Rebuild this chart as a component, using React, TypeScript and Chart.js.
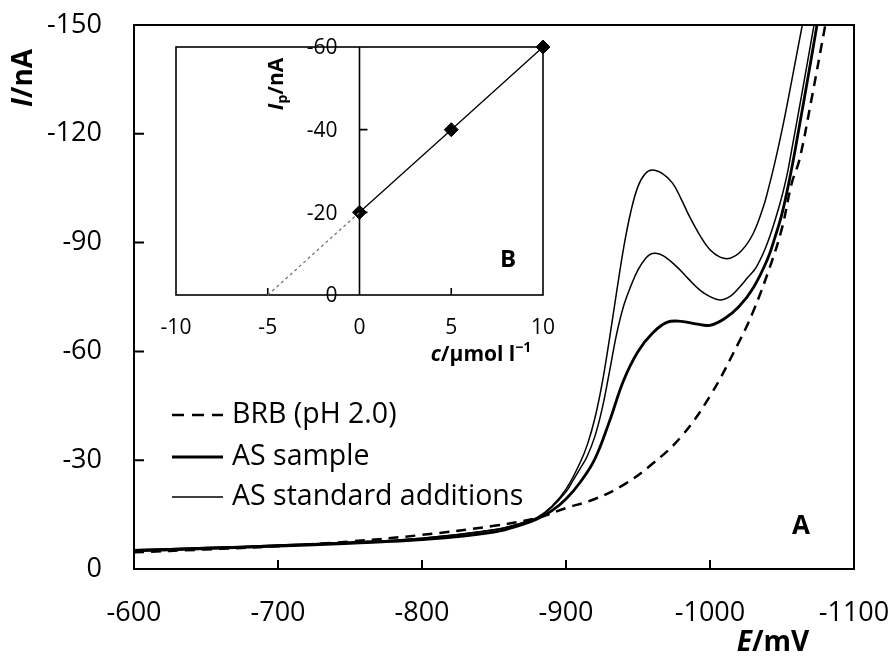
import React, { useEffect, useRef } from "react";
import { Chart, registerables } from "chart.js";
Chart.register(...registerables);

const FONT = "'Open Sans', sans-serif";

// ---------- main chart data (E / mV, I / nA) ----------
const brbE = [-600, -650, -700, -750, -800, -850, -880, -900, -920, -940, -960, -980, -1000, -1020, -1030, -1041.7, -1050, -1056.7, -1062, -1070, -1081];
const brbI = [-4.6, -5.4, -6.3, -7.6, -9.4, -11.9, -14.1, -16.8, -19.3, -23.2, -29.0, -36.5, -47.7, -62.5, -71.0, -83.4, -94.0, -106.3, -112.7, -128.5, -152.0];

const sampleE = [-600, -650, -700, -750, -800, -850, -870, -880, -890, -900, -910, -920, -930, -940, -950, -960, -970, -980, -990, -1000, -1010, -1020, -1030, -1040, -1045, -1050, -1055, -1060, -1070, -1076];
const sampleI = [-5.0, -5.6, -6.3, -7.1, -8.1, -10.2, -12.3, -13.8, -16.0, -19.3, -24.0, -30.3, -40.5, -52.0, -60.0, -65.0, -68.0, -68.3, -67.6, -67.2, -69.0, -72.3, -77.5, -85.5, -91.3, -98.0, -107.0, -117.5, -140.0, -154.0];

const add1E = [-600, -650, -700, -750, -800, -850, -870, -880, -890, -900, -905, -910, -914.4, -920, -925, -930, -935, -940, -945, -950, -955, -960, -967, -977, -985, -993, -1000, -1007, -1014, -1020, -1026, -1032.4, -1040, -1048.6, -1053.2, -1056.7, -1064, -1074];
const add1I = [-5.3, -5.9, -6.6, -7.4, -8.5, -10.8, -12.7, -14.1, -17.0, -21.3, -24.5, -27.8, -30.8, -36.5, -44.0, -54.0, -64.5, -72.5, -78.0, -82.5, -85.5, -87.0, -86.5, -83.3, -80.0, -76.9, -75.1, -74.2, -75.2, -77.5, -80.3, -83.4, -90.0, -100.8, -108.1, -115.5, -131.5, -154.0];

const add2E = [-600, -650, -700, -750, -800, -850, -870, -880, -890, -900, -910, -915, -920, -925, -930, -935, -940, -945, -950, -955, -960, -967, -974, -980, -986, -993, -1000, -1007, -1014, -1022, -1030, -1037, -1040, -1045, -1050, -1055, -1066];
const add2I = [-5.3, -5.9, -6.6, -7.4, -8.5, -10.8, -12.8, -14.2, -17.2, -22.0, -29.5, -34.5, -41.5, -51.0, -63.0, -76.0, -88.5, -98.5, -105.5, -109.0, -110.0, -109.0, -106.4, -102.0, -97.0, -92.0, -88.0, -86.0, -85.7, -87.8, -92.5, -99.8, -104.0, -112.0, -121.0, -131.0, -154.0];

const mainXTicks = [-600, -700, -800, -900, -1000, -1100];
const mainYTicks = [0, -30, -60, -90, -120, -150];
const legendLabels = ["BRB (pH 2.0)", "AS sample", "AS standard additions"];

// ---------- inset data (c / µmol l-1, Ip / nA) ----------
const insetC = [0, 5, 10];
const insetIp = [-20, -40, -60];
const extrapC = [-5, 0];
const extrapIp = [0, -20];
const insetXTicks = [-10, -5, 0, 5, 10];
const insetYTicks = [0, -20, -40, -60];

const zip = (xs: number[], ys: number[]) => xs.map((x, i) => ({ x, y: ys[i] }));

type Part = { t: string; font: string; dy?: number };
function drawRich(ctx: CanvasRenderingContext2D, parts: Part[], cx: number, cy: number) {
  let total = 0;
  for (const p of parts) {
    ctx.font = p.font;
    total += ctx.measureText(p.t).width;
  }
  let x = cx - total / 2;
  ctx.textAlign = "left";
  ctx.textBaseline = "middle";
  for (const p of parts) {
    ctx.font = p.font;
    ctx.fillText(p.t, x, cy + (p.dy || 0));
    x += ctx.measureText(p.t).width;
  }
}

const mainPlugin = {
  id: "mainDecor",
  afterDraw(chart: any) {
    const ctx: CanvasRenderingContext2D = chart.ctx;
    const { left, right, top, bottom } = chart.chartArea;
    const xs = chart.scales.x;
    const ys = chart.scales.y;
    ctx.save();
    ctx.strokeStyle = "#000";
    ctx.fillStyle = "#000";
    ctx.setLineDash([]);
    ctx.lineWidth = 2;
    ctx.strokeRect(left, top, right - left, bottom - top);
    // inward ticks
    ctx.beginPath();
    for (const v of mainXTicks) {
      const px = xs.getPixelForValue(v);
      ctx.moveTo(px, bottom);
      ctx.lineTo(px, bottom - 9);
    }
    for (const v of mainYTicks) {
      const py = ys.getPixelForValue(v);
      ctx.moveTo(left, py);
      ctx.lineTo(left + 10, py);
    }
    ctx.stroke();
    // tick labels
    ctx.font = `27px ${FONT}`;
    ctx.textBaseline = "middle";
    ctx.textAlign = "center";
    for (const v of mainXTicks) {
      ctx.fillText(String(v), xs.getPixelForValue(v), bottom + 44);
    }
    ctx.textAlign = "right";
    for (const v of mainYTicks) {
      ctx.fillText(String(v), left - 32, ys.getPixelForValue(v));
    }
    // axis titles
    drawRich(ctx, [
      { t: "E", font: `italic bold 28px ${FONT}` },
      { t: "/mV", font: `bold 28px ${FONT}` },
    ], 773, 643);
    ctx.save();
    ctx.translate(24, 78);
    ctx.rotate(-Math.PI / 2);
    drawRich(ctx, [
      { t: "I", font: `italic bold 28px ${FONT}` },
      { t: "/nA", font: `bold 28px ${FONT}` },
    ], 0, 0);
    ctx.restore();
    // panel letter
    ctx.font = `bold 26px ${FONT}`;
    ctx.textAlign = "center";
    ctx.fillText("A", right - 53, bottom - 42);
    // legend
    const rows = [bottom - 154, bottom - 112, bottom - 72];
    const lx0 = left + 38, lx1 = left + 89, tx = left + 98;
    const styles = [
      { w: 2.5, dash: [12, 8] },
      { w: 2.8, dash: [] as number[] },
      { w: 1.5, dash: [] as number[] },
    ];
    for (let i = 0; i < 3; i++) {
      ctx.beginPath();
      ctx.lineWidth = styles[i].w;
      ctx.setLineDash(styles[i].dash);
      ctx.moveTo(lx0, rows[i]);
      ctx.lineTo(lx1, rows[i]);
      ctx.stroke();
      ctx.setLineDash([]);
      ctx.font = `28.5px ${FONT}`;
      ctx.textAlign = "left";
      ctx.textBaseline = "middle";
      ctx.fillText(legendLabels[i], tx, rows[i]);
    }
    ctx.restore();
  },
};

const insetPlugin = {
  id: "insetDecor",
  beforeDraw(chart: any) {
    const ctx: CanvasRenderingContext2D = chart.ctx;
    const { left, right, top, bottom } = chart.chartArea;
    ctx.save();
    ctx.fillStyle = "#fff";
    ctx.fillRect(left, top, right - left, bottom - top);
    ctx.restore();
  },
  beforeDatasetsDraw(chart: any) {
    const ctx: CanvasRenderingContext2D = chart.ctx;
    const { left, right, top, bottom } = chart.chartArea;
    const xs = chart.scales.x;
    const ys = chart.scales.y;
    const x0 = xs.getPixelForValue(0);
    ctx.save();
    ctx.strokeStyle = "#000";
    ctx.lineWidth = 1.6;
    ctx.strokeRect(left, top, right - left, bottom - top);
    ctx.beginPath();
    ctx.moveTo(x0, top);
    ctx.lineTo(x0, bottom);
    for (const v of insetXTicks) {
      if (v === -10 || v === 10 || v === 0) continue;
      const px = xs.getPixelForValue(v);
      ctx.moveTo(px, bottom);
      ctx.lineTo(px, bottom - 7);
    }
    for (const v of insetYTicks) {
      if (v === 0 || v === -60) continue;
      const py = ys.getPixelForValue(v);
      ctx.moveTo(x0, py);
      ctx.lineTo(x0 + 8, py);
    }
    ctx.stroke();
    ctx.restore();
  },
  afterDraw(chart: any) {
    const ctx: CanvasRenderingContext2D = chart.ctx;
    const { right, top, bottom } = chart.chartArea;
    const xs = chart.scales.x;
    const ys = chart.scales.y;
    const x0 = xs.getPixelForValue(0);
    ctx.save();
    ctx.fillStyle = "#000";
    ctx.font = `21px ${FONT}`;
    ctx.textBaseline = "middle";
    ctx.textAlign = "center";
    for (const v of insetXTicks) {
      ctx.fillText(String(v), xs.getPixelForValue(v), bottom + 33);
    }
    ctx.textAlign = "right";
    for (const v of insetYTicks) {
      ctx.fillText(String(v), x0 - 22, ys.getPixelForValue(v) + 1.5);
    }
    // x title
    drawRich(ctx, [
      { t: "c", font: `italic bold 21px ${FONT}` },
      { t: "/\u00b5mol l", font: `bold 21px ${FONT}` },
      { t: "\u22121", font: `bold 14px ${FONT}`, dy: -7 },
    ], right - 62, bottom + 60);
    // y title
    ctx.save();
    ctx.translate(x0 - 82, top + 37);
    ctx.rotate(-Math.PI / 2);
    drawRich(ctx, [
      { t: "I", font: `italic bold 21px ${FONT}` },
      { t: "p", font: `bold 14px ${FONT}`, dy: 6 },
      { t: "/nA", font: `bold 21px ${FONT}` },
    ], 0, 0);
    ctx.restore();
    ctx.font = `bold 24px ${FONT}`;
    ctx.textAlign = "center";
    ctx.fillText("B", right - 35, bottom - 35);
    ctx.restore();
  },
};

export default function App() {
  const mainRef = useRef<HTMLCanvasElement>(null);
  const insetRef = useRef<HTMLCanvasElement>(null);

  useEffect(() => {
    const W = 896, H = 659;
    const lineBase = { borderColor: "#000", pointRadius: 0, tension: 0.4, fill: false };
    const main = new Chart(mainRef.current as HTMLCanvasElement, {
      type: "line",
      data: {
        datasets: [
          { ...lineBase, label: legendLabels[0], data: zip(brbE, brbI), borderWidth: 2.5, borderDash: [10, 7] },
          { ...lineBase, label: legendLabels[1], data: zip(sampleE, sampleI), borderWidth: 2.8 },
          { ...lineBase, label: legendLabels[2], data: zip(add1E, add1I), borderWidth: 1.5 },
          { ...lineBase, label: legendLabels[2] + " 2", data: zip(add2E, add2I), borderWidth: 1.5 },
        ],
      },
      options: {
        responsive: false,
        animation: false,
        layout: { padding: { left: 134, top: 25, right: W - 854, bottom: H - 569 } },
        plugins: { legend: { display: false }, tooltip: { enabled: false } },
        scales: {
          x: { type: "linear", min: -1100, max: -600, reverse: true, display: false },
          y: { type: "linear", min: -150, max: 0, reverse: true, display: false },
        },
      } as any,
      plugins: [mainPlugin],
    });

    const inset = new Chart(insetRef.current as HTMLCanvasElement, {
      type: "line",
      data: {
        datasets: [
          { label: "extrapolation", data: zip(extrapC, extrapIp), borderColor: "#777", borderWidth: 1.3, borderDash: [3, 3], pointRadius: 0, fill: false, clip: false },
          { label: "Ip", data: zip(insetC, insetIp), borderColor: "#000", borderWidth: 1.3, pointStyle: "rectRot", pointRadius: 7, pointBackgroundColor: "#000", pointBorderColor: "#000", pointBorderWidth: 1, fill: false, clip: false },
        ],
      },
      options: {
        responsive: false,
        animation: false,
        layout: { padding: { left: 176, top: 47, right: W - 543, bottom: H - 295 } },
        plugins: { legend: { display: false }, tooltip: { enabled: false } },
        scales: {
          x: { type: "linear", min: -10, max: 10, display: false },
          y: { type: "linear", min: -60, max: 0, reverse: true, display: false },
        },
      } as any,
      plugins: [insetPlugin],
    });

    return () => {
      main.destroy();
      inset.destroy();
    };
  }, []);

  return (
    <div style={{ position: "absolute", left: 0, top: 0, width: 896, height: 659, background: "#fff" }}>
      <canvas ref={mainRef} width={896} height={659} style={{ position: "absolute", left: 0, top: 0 }} />
      <canvas ref={insetRef} width={896} height={659} style={{ position: "absolute", left: 0, top: 0 }} />
    </div>
  );
}
